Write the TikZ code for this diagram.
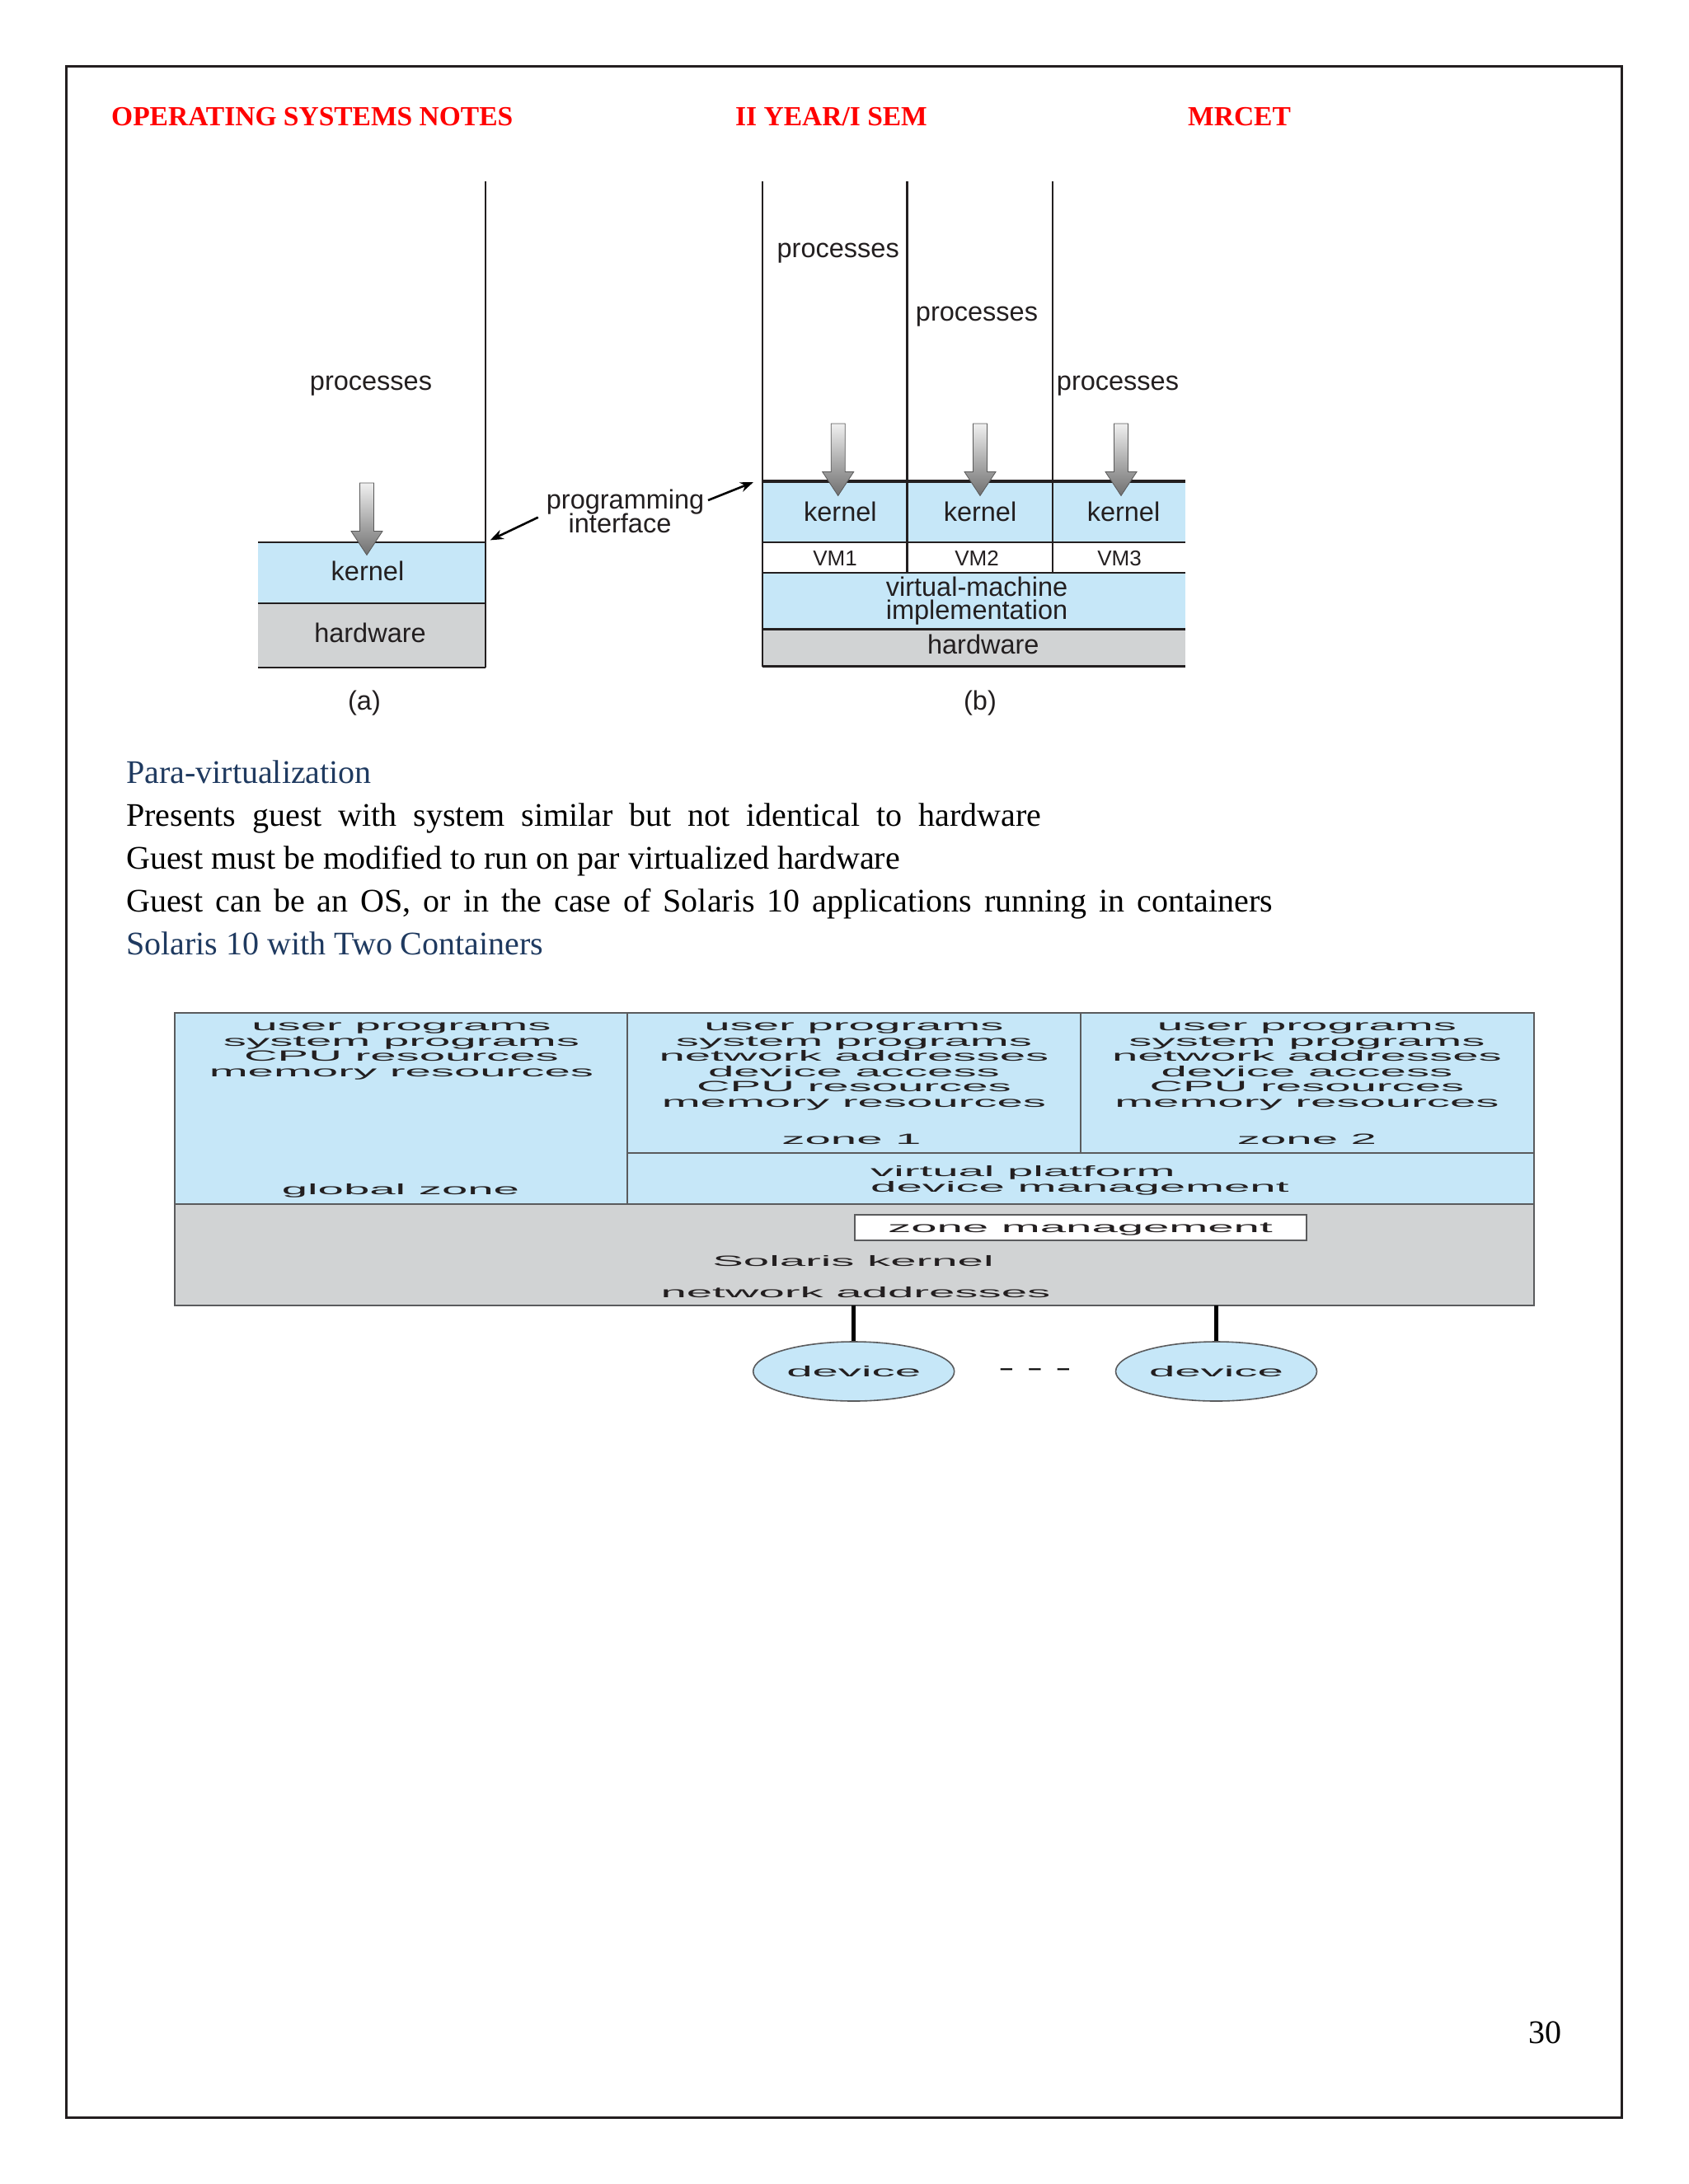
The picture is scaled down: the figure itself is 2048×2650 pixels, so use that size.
\documentclass[tikz,border=0pt]{standalone}
\usepackage{fontspec}
\setmainfont{Liberation Serif}
\setsansfont{Liberation Sans}
\usepackage{graphicx}
\usetikzlibrary{arrows.meta,shapes.geometric}

\definecolor{hdrred}{HTML}{FF0000}
\definecolor{navyhead}{HTML}{1F3A60}
\definecolor{lblue}{HTML}{C6E7F8}
\definecolor{lgray}{HTML}{D1D3D4}
\definecolor{ink}{HTML}{231F20}
\definecolor{edge}{HTML}{5A5B5D}

\newcommand{\wideset}[1]{\scalebox{3.13}[1]{\begin{tabular}{@{}c@{}}#1\end{tabular}}}
\newcommand{\widel}[1]{\scalebox{3.13}[1]{\begin{tabular}{@{}l@{}}#1\end{tabular}}}
\newcommand{\wideone}[1]{\scalebox{3.13}[1]{#1}}

\tikzset{
  hdr/.style={font=\fontsize{33.5}{40}\selectfont\bfseries, text=hdrred, anchor=base west, inner sep=0pt},
  body/.style={font=\fontsize{40}{48}\selectfont, text=black, anchor=base west, inner sep=0pt},
  subhd/.style={body, text=navyhead},
  lbl/.style={font=\sffamily\fontsize{32.5}{34}\selectfont, text=ink, anchor=base, inner sep=0pt},
  vmlbl/.style={lbl, font=\sffamily\fontsize{26}{28}\selectfont},
  sol/.style={font=\sffamily\fontsize{18}{18.5}\selectfont, text=ink, inner sep=0pt},
  frame/.style={draw=ink, line width=2.2pt},
  sline/.style={draw=edge, line width=2pt},
  ptr/.style={draw=black, line width=2.6pt, -{Stealth[length=16pt,width=12pt]}},
  devline/.style={draw=black, line width=5pt},
  dev/.style={ellipse, draw=edge, line width=1.6pt, fill=lblue, minimum width=244pt, minimum height=72pt, inner sep=0pt, sol},
  zmbox/.style={rectangle, draw=edge, line width=2pt, fill=white, minimum width=548pt, minimum height=31pt, inner sep=0pt, text height=13pt, text depth=1pt, sol},
  pics/blockarr/.style={code={
    \shade[top color=gray!12, bottom color=gray!75!black!90, draw=gray!70!black, line width=0.8pt]
      (-8.5,0) -- (8.5,0) -- (8.5,58.5) -- (19,58.5) -- (0,87.5) -- (-19,58.5) -- (-8.5,58.5) -- cycle;
  }}
}

\begin{document}
\begin{tikzpicture}[x=1pt,y=-1pt]
\useasboundingbox (0,0) rectangle (2048,2650);
\fill[white] (0,0) rectangle (2048,2650);
\draw[line width=2.5pt, ink] (80.5,80.5) rectangle (1967.5,2569.5);

% header
\node[hdr] (h1) at (135,152) {OPERATING SYSTEMS NOTES};
\node[hdr] (h2) at (892,152) {II YEAR/I SEM};
\node[hdr] (h3) at (1441,152) {MRCET};

% ---------- (a)
\fill[lblue] (313,657.6) rectangle (589,732);
\fill[lgray] (313,732) rectangle (589,810);
\draw[frame] (589,220) -- (589,810);
\draw[frame] (313,657.6) -- (589,657.6);
\draw[frame] (313,732) -- (589,732);
\draw[frame] (313,810) -- (589,810);
\pic at (445,586) {blockarr};
\node[lbl] (aproc) at (450,473.2) {processes};
\node[lbl] (akern) at (446,704.5) {kernel};
\node[lbl] (ahw) at (449,779) {hardware};
\node[lbl] (acap) at (442,861) {(a)};

% programming interface
\node[lbl] (prog) at (758.6,617.4) {programming};
\node[lbl] (intf) at (752,646.4) {interface};
\coordinate (pa1) at (652.8,627.7);
\coordinate (pa2) at (594.7,655.4);
\coordinate (pb1) at (859,607);
\coordinate (pb2) at (914,585);
\draw[ptr] (pa1) -- (pa2);
\draw[ptr] (pb1) -- (pb2);

% ---------- (b)
\fill[lblue] (925,584) rectangle (1437.7,657.6);
\fill[white] (925,657.6) rectangle (1437.7,694.6);
\fill[lblue] (925,694.6) rectangle (1437.7,763.4);
\fill[lgray] (925,763.4) rectangle (1437.7,808.5);
\draw[frame] (925,220) -- (925,808.5);
\draw[frame] (1100.5,220) -- (1100.5,694.6);
\draw[frame] (1277,220) -- (1277,694.6);
\foreach \yy in {657.6,694.6,763.4,808.5} \draw[frame] (925,\yy) -- (1437.7,\yy);
\draw[frame, line width=4.5pt] (925,584) -- (1437.7,584);
\pic at (1016.7,514) {blockarr};
\pic at (1189,514) {blockarr};
\pic at (1360,514) {blockarr};
\node[lbl] (bproc1) at (1016.7,312.5) {processes};
\node[lbl] (bproc2) at (1185,389.7) {processes};
\node[lbl] (bproc3) at (1356,473.2) {processes};
\node[lbl] (bk1) at (1019.4,632) {kernel};
\node[lbl] (bk2) at (1189,632) {kernel};
\node[lbl] (bk3) at (1363,632) {kernel};
\node[vmlbl] (vm1) at (1013,686.6) {VM1};
\node[vmlbl] (vm2) at (1185,686.6) {VM2};
\node[vmlbl] (vm3) at (1358,686.6) {VM3};
\node[lbl] (vmi1) at (1185,723.7) {virtual-machine};
\node[lbl] (vmi2) at (1185,751.3) {implementation};
\node[lbl] (bhw) at (1192.8,793.8) {hardware};
\node[lbl] (bcap) at (1189,861) {(b)};

% ---------- body text
\node[subhd] (t1) at (153,950.5) {Para-virtualization};
\node[body] (t2) at (153,1002.5) {\makebox[1110pt][s]{Presents guest with system similar but not identical to hardware}};
\node[body] (t3) at (153,1054) {Guest must be modified to run on par virtualized hardware};
\node[body] (t4) at (153,1106.5) {\makebox[1391pt][s]{Guest can be an OS, or in the case of Solaris 10 applications running in containers}};
\node[subhd] (t5) at (153,1158.8) {Solaris 10 with Two Containers};

% ---------- Solaris diagram
\fill[lblue] (211.6,1229) rectangle (1861,1461.4);
\node[rectangle, fill=lgray, minimum width=1649.4pt, minimum height=122.4pt, inner sep=0pt, anchor=north west] (solk) at (211.6,1461.4) {};
\draw[sline] (211.6,1229) rectangle (1861,1583.8);
\draw[sline] (211.6,1461.4) -- (1861,1461.4);
\draw[sline] (761,1229) -- (761,1461.4);
\draw[sline] (761,1399) -- (1861,1399);
\draw[sline] (1310.6,1229) -- (1310.6,1399);

\node[sol, anchor=north] (gz) at (487,1237.5) {\wideset{user programs\\system programs\\CPU resources\\memory resources}};
\node[sol, anchor=base] (gzl) at (486,1449) {\wideone{global zone}};
\node[sol, anchor=north] (z1) at (1036,1237.5) {\wideset{user programs\\system programs\\network addresses\\device access\\CPU resources\\memory resources}};
\node[sol, anchor=base] (z1l) at (1033,1388) {\wideone{zone 1}};
\node[sol, anchor=north] (z2) at (1585.5,1237.5) {\wideset{user programs\\system programs\\network addresses\\device access\\CPU resources\\memory resources}};
\node[sol, anchor=base] (z2l) at (1585.5,1388) {\wideone{zone 2}};
\node[sol, anchor=north west] (vp) at (1056,1414.3) {\widel{virtual platform\\device management}};
\node[zmbox] (zm) at (1310.5,1489) {\wideone{zone management}};
\node[sol, anchor=base] (sk) at (1035,1536.7) {\wideone{Solaris kernel}};
\node[sol, anchor=base] (na) at (1038,1574) {\wideone{network addresses}};

\node[dev] (dev1) at (1035.7,1664) {\wideone{device}};
\node[dev] (dev2) at (1475.5,1664) {\wideone{device}};
\node[sol, font=\sffamily\bfseries\fontsize{18}{18.5}\selectfont, text=black] (dots) at (1255.5,1664) {\wideone{- - -}};
\draw[devline] (dev1.north) -- (dev1.north |- solk.south);
\draw[devline] (dev2.north) -- (dev2.north |- solk.south);

% page number
\node[body, anchor=base] (pg) at (1874,2479.3) {30};
\end{tikzpicture}
\end{document}
